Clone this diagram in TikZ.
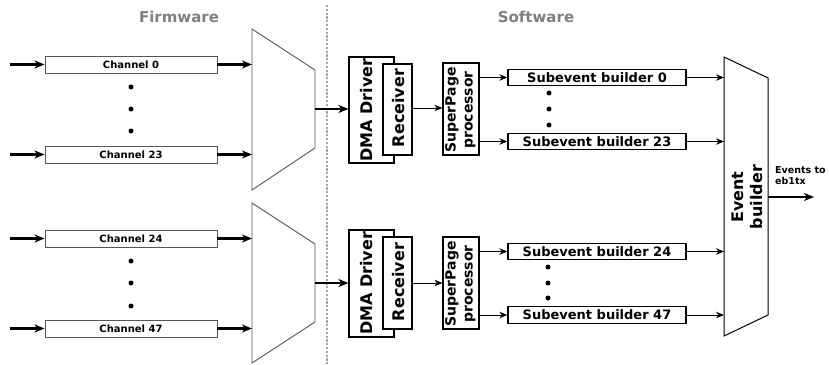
\documentclass[tikz,border=0pt]{standalone}
\usepackage{fontspec}
\setmainfont{DejaVu Sans}
\usetikzlibrary{arrows.meta,calc}
\definecolor{labelgray}{RGB}{135,124,124}
\definecolor{edgegray}{RGB}{85,85,85}
\definecolor{dotgray}{RGB}{165,165,165}
\begin{document}
\begin{tikzpicture}[x=1pt,y=-1pt,
  chbox/.style={draw=edgegray,line width=0.9pt,fill=white,minimum width=172pt,minimum height=17pt,inner sep=0pt,font=\fontsize{10}{12}\selectfont\bfseries},
  subbox/.style={draw=black,line width=1.3pt,fill=white,minimum width=178pt,minimum height=16.5pt,inner sep=0pt,font=\fontsize{13}{15}\selectfont\bfseries},
  blockbox/.style={draw=black,line width=1.2pt,fill=white,inner sep=0pt},
  rottext/.style={rotate=90,inner sep=0pt,align=center,font=\fontsize{16}{19}\selectfont\bfseries},
  sptext/.style={rotate=90,inner sep=0pt,align=center,font=\fontsize{14}{17}\selectfont\bfseries},
  heading/.style={text=labelgray,font=\fontsize{15}{18}\selectfont\bfseries,inner sep=0pt},
  fatarrow/.style={line width=2.6pt,-{Stealth[length=10pt,width=8pt,inset=3pt]}},
  thinarrow/.style={line width=1pt,-{Stealth[length=8pt,width=6.5pt,inset=2.5pt]}},
  dot/.style={circle,fill=black,inner sep=0pt,minimum size=5pt},
  muxline/.style={draw=edgegray,line width=0.9pt,fill=white,line join=miter},
]
\useasboundingbox (0,0) rectangle (829,364);

% headings
\node[heading] (fw) at (179,17) {Firmware};
\node[heading] (sw) at (536,17) {Software};
\draw[dotgray,line width=2.6pt,dash pattern=on 2.2pt off 1.6pt] (327,5) coordinate (dtop) -- (327,364) coordinate (dbot);

% multiplexers
\coordinate (m1tl) at (252,29); \coordinate (m1tr) at (315,70);
\coordinate (m1br) at (315,148); \coordinate (m1bl) at (252,190);
\coordinate (m1out) at (315,109);
\draw[muxline] (m1tl) -- (m1tr) -- (m1br) -- (m1bl) -- cycle;
\coordinate (m2tl) at (252,203); \coordinate (m2tr) at (315,244);
\coordinate (m2br) at (315,322); \coordinate (m2bl) at (252,363);
\coordinate (m2out) at (315,283);
\draw[muxline] (m2tl) -- (m2tr) -- (m2br) -- (m2bl) -- cycle;

% channels
\node[chbox] (ch0) at (131,64.5) {Channel 0};
\node[chbox] (ch23) at (131,154.5) {Channel 23};
\node[chbox] (ch24) at (131,238.5) {Channel 24};
\node[chbox] (ch47) at (131,328.5) {Channel 47};
\foreach \c in {ch0,ch23,ch24,ch47}{
  \coordinate (\c in) at ($(\c.west)+(-35,0)$);
  \draw[fatarrow] (\c in) -- (\c.west);
  \draw[fatarrow] (\c.east) -- (\c.east -| m1tl);
}
\node[dot] (cd1) at (131,87) {};
\node[dot] (cd2) at (131,109) {};
\node[dot] (cd3) at (131,131) {};
\node[dot] (cd4) at (131,261) {};
\node[dot] (cd5) at (131,283) {};
\node[dot] (cd6) at (131,306) {};

% DMA / receiver blocks
\node[blockbox,minimum width=45pt,minimum height=106pt] (dma1) at (371.5,110) {};
\node[rottext] (dma1t) at (367,110) {DMA Driver};
\node[blockbox,minimum width=29pt,minimum height=91pt] (rec1) at (397.5,109.5) {};
\node[rottext] (rec1t) at (399,108) {Receiver};
\node[blockbox,minimum width=45pt,minimum height=107pt] (dma2) at (371.5,283.5) {};
\node[rottext] (dma2t) at (367,283.5) {DMA Driver};
\node[blockbox,minimum width=29pt,minimum height=92pt] (rec2) at (397.5,283) {};
\node[rottext] (rec2t) at (399,282) {Receiver};

\draw[fatarrow] (m1out) -- (m1out -| dma1.west);
\draw[fatarrow] (m2out) -- (m2out -| dma2.west);

% SuperPage processors
\node[blockbox,minimum width=36pt,minimum height=92pt] (sp1) at (461,109) {};
\node[sptext] (sp1t) at (460.5,110) {SuperPage\\processor};
\node[blockbox,minimum width=36pt,minimum height=92pt] (sp2) at (461,283) {};
\node[sptext] (sp2t) at (460.5,284) {SuperPage\\processor};

\draw[thinarrow] (rec1.east |- 0,108) coordinate (r1o) -- (r1o -| sp1.west);
\draw[thinarrow] (rec2.east |- 0,283) coordinate (r2o) -- (r2o -| sp2.west);

% subevent builders
\node[subbox] (sb0) at (597,77.5) {Subevent builder 0};
\node[subbox] (sb23) at (597,141.5) {Subevent builder 23};
\node[subbox] (sb24) at (597,251.5) {Subevent builder 24};
\node[subbox] (sb47) at (597,315) {Subevent builder 47};
\draw[thinarrow] (sb0.west -| sp1.east) -- (sb0.west);
\draw[thinarrow] (sb23.west -| sp1.east) -- (sb23.west);
\draw[thinarrow] (sb24.west -| sp2.east) -- (sb24.west);
\draw[thinarrow] (sb47.west -| sp2.east) -- (sb47.west);
\node[dot] (sd1) at (549,93) {};
\node[dot] (sd2) at (549,109) {};
\node[dot] (sd3) at (549,125) {};
\node[dot] (sd4) at (548,267) {};
\node[dot] (sd5) at (548,283) {};
\node[dot] (sd6) at (548,298) {};

% event builder
\coordinate (ebtl) at (724,57); \coordinate (ebtr) at (768,78);
\coordinate (ebbr) at (768,315); \coordinate (ebbl) at (724,336);
\draw[line width=1pt,fill=white,line join=miter] (ebtl) -- (ebtr) -- (ebbr) -- (ebbl) -- cycle;
\node[rottext] (ebt) at (747,197) {Event\\builder};
\foreach \s in {sb0,sb23,sb24,sb47}{
  \draw[thinarrow] (\s.east) -- (\s.east -| ebtl);
}
\coordinate (ebout) at (768,197);
\coordinate (ebend) at (814,197);
\draw[fatarrow,line width=2.8pt] (ebout) -- (ebend);
\node[anchor=north west,align=left,inner sep=0pt,font=\fontsize{9.5}{11}\selectfont\bfseries] (evt) at (775,166.5) {Events to\\eb1tx};
\end{tikzpicture}
\end{document}
